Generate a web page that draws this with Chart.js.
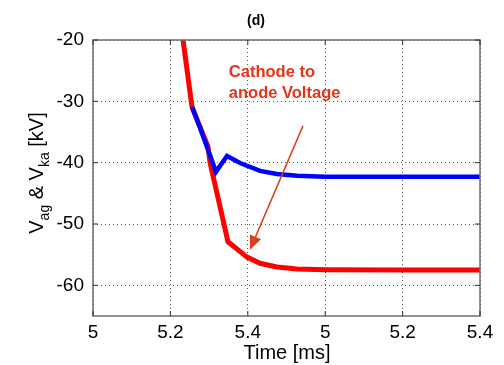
<!DOCTYPE html>
<html>
<head>
<meta charset="utf-8">
<script src="https://cdn.jsdelivr.net/npm/chart.js@4/dist/chart.umd.min.js"></script>
<style>
  body { margin: 0; background: #fff; }
  #wrap { width: 504px; height: 365px; }
</style>
</head>
<body>
<div id="wrap"><canvas id="grafico"></canvas></div>
<script>
// datos (tiempo en ms, tension en kV)
const tiempoRojo = [5.114, 5.1163, 5.1279, 5.1486, 5.1512, 5.1744, 5.199, 5.2158, 5.2377, 5.2636, 5.30, 5.40, 5.50];
const tensionRojo = [-18, -20, -30.9, -37.4, -40.0, -52.9, -55.4, -56.4, -57.0, -57.35, -57.45, -57.5, -57.5];

const tiempoAzul = [5.1279, 5.1382, 5.1486, 5.1589, 5.1731, 5.19, 5.2158, 5.2377, 5.2636, 5.30, 5.40, 5.50];
const tensionAzul = [-30.9, -34.3, -37.9, -41.5, -38.9, -40.05, -41.35, -41.85, -42.15, -42.3, -42.3, -42.3];

// etiquetas del eje x tal como aparecen en la figura
const valoresX = [5.0, 5.1, 5.2, 5.3, 5.4, 5.5];
const etiquetasX = ["5", "5.2", "5.4", "5", "5.2", "5.4"];
const valoresY = [-60, -50, -40, -30, -20];

// flecha de la anotacion (en unidades de los ejes)
const flechaDesde = { x: 5.2713, y: -34.0 };
const flechaHasta = { x: 5.2028, y: -54.2 };
const textoNota = ["Cathode to", "anode Voltage"];
const posNota = { x: 5.1755, y: -26.0 };

const puntos = (xs, ys) => xs.map((x, i) => ({ x: x, y: ys[i] }));

const fuente = "Arial, 'Liberation Sans', sans-serif";

const extras = {
  id: "extras",
  afterDraw(chart) {
    const ctx = chart.ctx;
    const a = chart.chartArea;
    const sx = chart.scales.x, sy = chart.scales.y;
    ctx.save();

    // marco
    ctx.strokeStyle = "#6e6e6e";
    ctx.lineWidth = 1.5;
    ctx.strokeRect(a.left, a.top, a.right - a.left, a.bottom - a.top);

    // marcas interiores
    ctx.lineWidth = 1;
    ctx.strokeStyle = "#333";
    ctx.beginPath();
    valoresY.forEach(v => {
      const p = sy.getPixelForValue(v);
      ctx.moveTo(a.left, p); ctx.lineTo(a.left + 5, p);
      ctx.moveTo(a.right, p); ctx.lineTo(a.right - 5, p);
    });
    valoresX.forEach(v => {
      const p = sx.getPixelForValue(v);
      ctx.moveTo(p, a.bottom); ctx.lineTo(p, a.bottom - 5);
      ctx.moveTo(p, a.top); ctx.lineTo(p, a.top + 5);
    });
    ctx.stroke();

    // titulo
    ctx.fillStyle = "#000";
    ctx.font = "bold 14px " + fuente;
    ctx.textAlign = "center";
    ctx.textBaseline = "alphabetic";
    ctx.fillText("(d)", 256, 25);

    // titulo eje x
    ctx.font = "20px " + fuente;
    ctx.fillText("Time [ms]", 287, 359);

    // titulo eje y con subindices
    const trozos = [
      { t: "V", sub: false }, { t: "ag", sub: true },
      { t: " & V", sub: false }, { t: "ka", sub: true },
      { t: " [kV]", sub: false }
    ];
    let ancho = 0;
    trozos.forEach(p => {
      ctx.font = (p.sub ? "14px " : "20px ") + fuente;
      p.w = ctx.measureText(p.t).width;
      ancho += p.w;
    });
    ctx.translate(43, 173);
    ctx.rotate(-Math.PI / 2);
    ctx.textAlign = "left";
    let cx = -ancho / 2;
    trozos.forEach(p => {
      ctx.font = (p.sub ? "14px " : "20px ") + fuente;
      ctx.fillText(p.t, cx, p.sub ? 6 : 0);
      cx += p.w;
    });
    ctx.setTransform(1, 0, 0, 1, 0, 0);

    // anotacion
    ctx.fillStyle = "#e4341a";
    ctx.font = "bold 16.5px " + fuente;
    ctx.textAlign = "left";
    const nx = sx.getPixelForValue(posNota.x);
    const ny = sy.getPixelForValue(posNota.y);
    ctx.fillText(textoNota[0], nx, ny);
    ctx.fillText(textoNota[1], nx, ny + 21);

    // flecha
    const x1 = sx.getPixelForValue(flechaDesde.x), y1 = sy.getPixelForValue(flechaDesde.y);
    const x2 = sx.getPixelForValue(flechaHasta.x), y2 = sy.getPixelForValue(flechaHasta.y);
    const ang = Math.atan2(y2 - y1, x2 - x1);
    const largo = 14, medio = 6;
    const bx = x2 - largo * Math.cos(ang), by = y2 - largo * Math.sin(ang);
    ctx.strokeStyle = "#d9401c";
    ctx.fillStyle = "#d9401c";
    ctx.lineWidth = 1.5;
    ctx.beginPath();
    ctx.moveTo(x1, y1);
    ctx.lineTo(bx, by);
    ctx.stroke();
    ctx.beginPath();
    ctx.moveTo(x2, y2);
    ctx.lineTo(bx + medio * Math.sin(ang), by - medio * Math.cos(ang));
    ctx.lineTo(bx - medio * Math.sin(ang), by + medio * Math.cos(ang));
    ctx.closePath();
    ctx.fill();

    ctx.restore();
  }
};

const config = {
  type: "line",
  data: {
    datasets: [
      {
        label: "Vag",
        data: puntos(tiempoAzul, tensionAzul),
        borderColor: "#0000ff",
        borderWidth: 4.5,
        pointRadius: 0,
        tension: 0,
        clip: 0
      },
      {
        label: "Vka",
        data: puntos(tiempoRojo, tensionRojo),
        borderColor: "#ff0000",
        borderWidth: 5,
        pointRadius: 0,
        tension: 0,
        clip: 0
      }
    ]
  },
  options: {
    responsive: true,
    maintainAspectRatio: false,
    animation: false,
    layout: { padding: { top: 40, right: 24, bottom: 0, left: 0 } },
    plugins: {
      legend: { display: false },
      tooltip: { enabled: false },
      title: { display: false }
    },
    scales: {
      x: {
        type: "linear",
        min: 5.0,
        max: 5.5,
        afterBuildTicks: s => { s.ticks = valoresX.map(v => ({ value: v })); },
        afterFit: s => { s.height = 49; },
        ticks: {
          callback: (v, i) => etiquetasX[i],
          font: { size: 19, family: fuente },
          color: "#000",
          maxRotation: 0,
          padding: 5
        },
        grid: { color: "#555", drawTicks: false, tickLength: 0 },
        border: { display: false, dash: [1, 3] }
      },
      y: {
        min: -65,
        max: -20,
        afterBuildTicks: s => { s.ticks = valoresY.map(v => ({ value: v })); },
        afterFit: s => { s.width = 93; },
        ticks: {
          font: { size: 19, family: fuente },
          color: "#000",
          padding: 9
        },
        grid: { color: "#555", drawTicks: false, tickLength: 0 },
        border: { display: false, dash: [1, 3] }
      }
    }
  },
  plugins: [extras]
};

new Chart(document.getElementById("grafico"), config);
</script>
</body>
</html>
